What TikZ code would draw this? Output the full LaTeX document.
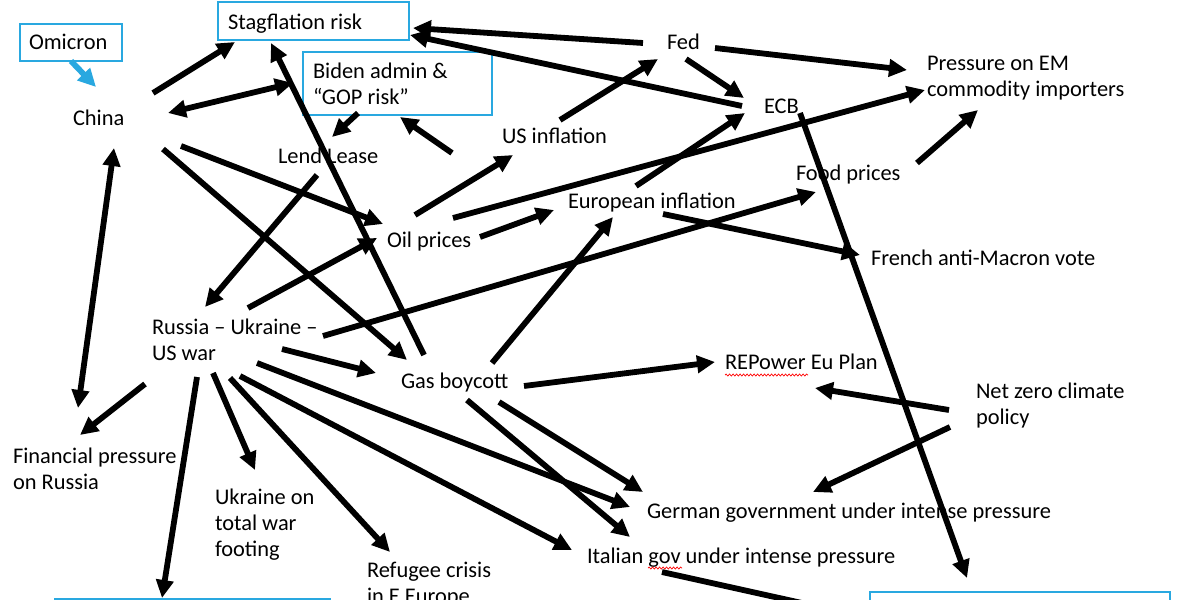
\documentclass[tikz,border=0pt]{standalone}
\usepackage{fontspec}
\setmainfont{Carlito}
\usetikzlibrary{arrows.meta,decorations.pathmorphing}
\definecolor{boxblue}{RGB}{41,168,224}
\begin{document}
\begin{tikzpicture}[x=1pt,y={(0pt,-1pt)},
  lbl/.style={inner sep=0pt, outer sep=0pt, anchor=base west, align=left, font=\fontsize{22.4}{26}\selectfont},
  bluebox/.style={draw=boxblue, line width=2.5pt, inner sep=0pt, outer sep=0pt, anchor=north west, align=flush left, font=\fontsize{22.4}{26}\selectfont},
  arr/.style={line width=5.8pt, -{Triangle[length=18pt,width=17pt]}},
  darr/.style={line width=5.8pt, {Triangle[length=18pt,width=17pt]}-{Triangle[length=18pt,width=17pt]}},
  barr/.style={line width=5.8pt, draw=boxblue, -{Triangle[length=18pt,width=17pt]}, color=boxblue},
  wavy/.style={draw=red, line width=0.7pt, decorate, decoration={snake, amplitude=1pt, segment length=3.5pt}}
]
\useasboundingbox (0,0) rectangle (1200,600);
\clip (0,0) rectangle (1200,600);
\fill[white] (0,0) rectangle (1200,600);

% boxes
\node[bluebox, minimum width=102pt, minimum height=37pt, text width=84pt, inner xsep=9pt, text height=13pt, text depth=0pt] (omicron) at (20,24) {Omicron};
\node[bluebox, minimum width=191pt, minimum height=38pt, text width=171pt, inner xsep=10pt, text height=16pt, text depth=0pt] (stag) at (218,2) {Stagflation risk};
\node[bluebox, minimum width=189pt, minimum height=63pt, text width=169pt, inner xsep=10pt, text height=10pt, text depth=21pt] (biden) at (303,52) {Biden admin \&\\“GOP risk”};
\node[bluebox, minimum width=275pt, minimum height=60pt] (boxbl) at (55,599) {};
\node[bluebox, minimum width=300pt, minimum height=60pt] (boxbr) at (870,592) {};

% labels (multi-line labels are placed by the baseline of their last line)
\node[lbl] (china) at (73,125) {China};
\node[lbl] (lend) at (278,163) {Lend Lease};
\node[lbl] (fed) at (667,49) {Fed};
\node[lbl] (ecb) at (764,113) {ECB};
\node[lbl] (pem) at (927,96) {Pressure on EM\\commodity importers};
\node[lbl] (usinf) at (502,143) {US inflation};
\node[lbl] (food) at (796,180) {Food prices};
\node[lbl] (euinf) at (568,208) {European inflation};
\node[lbl] (oil) at (387,247) {Oil prices};
\node[lbl] (french) at (871,265) {French anti-Macron vote};
\node[lbl] (russia) at (152,360) {Russia – Ukraine –\\US war};
\node[lbl] (gas) at (401,388) {Gas boycott};
\node[lbl] (repower) at (725,369) {REPower Eu Plan};
\node[lbl] (netzero) at (976,424) {Net zero climate\\policy};
\node[lbl] (finp) at (13,489) {Financial pressure\\on Russia};
\node[lbl] (ukr) at (215,556) {Ukraine on\\total war\\footing};
\node[lbl] (refugee) at (367,603) {Refugee crisis\\in E Europe};
\node[lbl] (german) at (647,518) {German government under intense pressure};
\node[lbl] (italian) at (587,563) {Italian gov under intense pressure};

% spell-check underlines
\draw[wavy] ([shift={(0,6)}]repower.base west) -- ++(83,0);
\draw[wavy] ([shift={(61,5)}]italian.base west) -- ++(34,0);

% connectors
\draw[barr] ([shift={(51,37)}]omicron.north west) -- ([shift={(23,-38)}]china.base west);
\draw[arr] ([shift={(80,-32)}]china.base west) -- ([shift={(17,40)}]stag.north west);
\draw[darr] ([shift={(95,-12)}]china.base west) -- ([shift={(-10,31)}]biden.north west);
\draw[arr] ([shift={(55,61)}]biden.north west) -- ([shift={(54,-26)}]lend.base west);
\draw[arr] ([shift={(-50,10)}]usinf.base west) -- ([shift={(97,65)}]biden.north west);
\draw[arr] ([shift={(-24,-6)}]fed.base west) -- ([shift={(195,26)}]stag.north west);
\draw[arr] ([shift={(-22,-7)}]ecb.base west) -- ([shift={(192,33)}]stag.north west);
\draw[arr] ([shift={(48,-1)}]fed.base west) -- ([shift={(-20,-26)}]pem.base west);
\draw[arr] ([shift={(19,10)}]fed.base west) -- ([shift={(-20,-15)}]ecb.base west);
\draw[arr] ([shift={(58,-23)}]usinf.base west) -- ([shift={(-9,10)}]fed.base west);
\draw[arr] ([shift={(28,-32)}]oil.base west) -- ([shift={(11,12)}]usinf.base west);
\draw[arr] ([shift={(66,-29)}]oil.base west) -- ([shift={(-2,-6)}]pem.base west);
\draw[arr] ([shift={(93,-10)}]oil.base west) -- ([shift={(-14,2)}]euinf.base west);
\draw[arr] ([shift={(68,-22)}]euinf.base west) -- ([shift={(-19,0)}]ecb.base west);
\draw[arr] ([shift={(121,-17)}]food.base west) -- ([shift={(51,14)}]pem.base west);
\draw[arr] ([shift={(36,0)}]ecb.base west) -- ([shift={(97,-14)}]boxbr.north west);
\draw[arr] ([shift={(95,6)}]euinf.base west) -- ([shift={(-11,-10)}]french.base west);
\draw[arr] ([shift={(171,-24)}]russia.base west) -- ([shift={(20,12)}]food.base west);
\draw[arr] ([shift={(96,-52)}]russia.base west) -- ([shift={(-10,-9)}]oil.base west);
\draw[arr] ([shift={(39,12)}]lend.base west) -- ([shift={(53,-53)}]russia.base west);
\draw[arr] ([shift={(108,21)}]china.base west) -- ([shift={(-4,-23)}]oil.base west);
\draw[arr] ([shift={(90,24)}]china.base west) -- ([shift={(6,-28)}]gas.base west);
\draw[arr] ([shift={(23,-33)}]gas.base west) -- ([shift={(53,41)}]stag.north west);
\draw[arr] ([shift={(130,-11)}]russia.base west) -- ([shift={(-25,-15)}]gas.base west);
\draw[arr] ([shift={(91,-25)}]gas.base west) -- ([shift={(45,9)}]euinf.base west);
\draw[arr] ([shift={(123,-2)}]gas.base west) -- ([shift={(-10,-7)}]repower.base west);
\draw[arr] ([shift={(-27,-14)}]netzero.base west) -- ([shift={(90,19)}]repower.base west);
\draw[arr] ([shift={(-26,3)}]netzero.base west) -- ([shift={(166,-26)}]german.base west);
\draw[arr] ([shift={(98,14)}]gas.base west) -- ([shift={(-4,-26)}]german.base west);
\draw[arr] ([shift={(66,12)}]gas.base west) -- ([shift={(43,-26)}]italian.base west);
\draw[arr] ([shift={(105,3)}]russia.base west) -- ([shift={(-17,-11)}]german.base west);
\draw[arr] ([shift={(88,16)}]russia.base west) -- ([shift={(-15,-13)}]italian.base west);
\draw[arr] ([shift={(78,18)}]russia.base west) -- ([shift={(23,-51)}]refugee.base west);
\draw[arr] ([shift={(61,13)}]russia.base west) -- ([shift={(40,-86)}]ukr.base west);
\draw[arr] ([shift={(45,17)}]russia.base west) -- ([shift={(107,-1)}]boxbl.north west);
\draw[arr] ([shift={(-7,24)}]russia.base west) -- ([shift={(67,-54)}]finp.base west);
\draw[darr] ([shift={(41,23)}]china.base west) -- ([shift={(65,-81)}]finp.base west);
\draw[arr] ([shift={(75,9)}]italian.base west) -- ([shift={(-5,25)}]boxbr.north west);
\end{tikzpicture}
\end{document}
